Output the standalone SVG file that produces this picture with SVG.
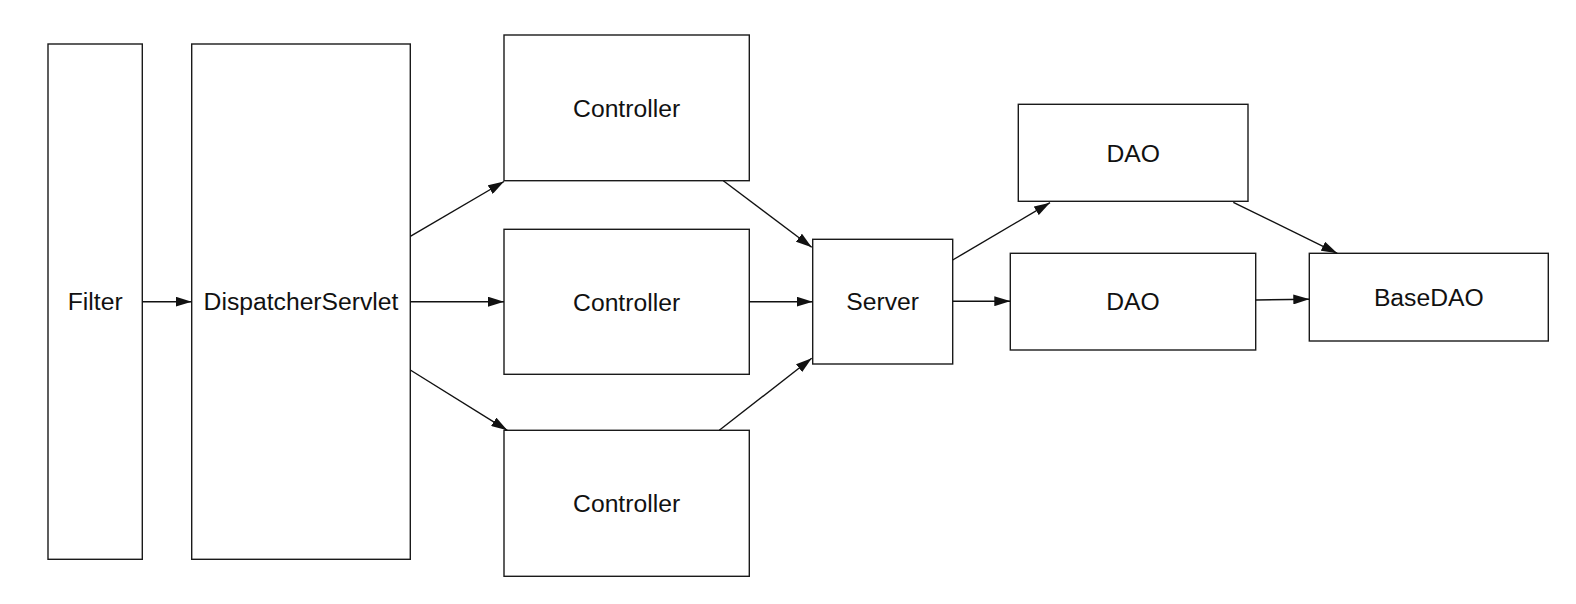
<svg xmlns="http://www.w3.org/2000/svg" width="1576" height="604" viewBox="0 0 1576 604">
  <style>
    .box { fill: #ffffff; stroke: #1a1a1a; stroke-width: 1.4; }
    .label { font-family: "Liberation Sans", Arial, Helvetica, sans-serif; font-size: 24.7px; fill: #111111; text-anchor: middle; dominant-baseline: central; }
    .edge { fill: none; stroke: #111111; stroke-width: 1.4; marker-end: url(#arrow); }
  </style>
  <defs>
    <marker id="arrow" viewBox="0 0 16 10" refX="16" refY="5" markerWidth="16" markerHeight="10" markerUnits="userSpaceOnUse" orient="auto">
      <path d="M0,0 L16,5 L0,10 Z" fill="#111111"/>
    </marker>
  </defs>
  <rect width="1576" height="604" fill="#ffffff"/>

  <g id="filter">
    <rect class="box" x="48" y="44" width="94.3" height="515.3"/>
    <text class="label" x="95.2" y="301.7">Filter</text>
  </g>
  <g id="dispatcher-servlet">
    <rect class="box" x="191.7" y="44" width="218.6" height="515.3"/>
    <text class="label" x="301" y="301.7">DispatcherServlet</text>
  </g>
  <g id="controller-1">
    <rect class="box" x="504" y="35" width="245.3" height="145.7"/>
    <text class="label" x="626.6" y="108.5">Controller</text>
  </g>
  <g id="controller-2">
    <rect class="box" x="504" y="229.3" width="245.3" height="145"/>
    <text class="label" x="626.6" y="302.2">Controller</text>
  </g>
  <g id="controller-3">
    <rect class="box" x="504" y="430.3" width="245.3" height="146"/>
    <text class="label" x="626.6" y="503.5">Controller</text>
  </g>
  <g id="server">
    <rect class="box" x="812.7" y="239.3" width="140" height="124.7"/>
    <text class="label" x="882.7" y="301.7">Server</text>
  </g>
  <g id="dao-1">
    <rect class="box" x="1018.3" y="104.3" width="229.7" height="97"/>
    <text class="label" x="1133.2" y="153">DAO</text>
  </g>
  <g id="dao-2">
    <rect class="box" x="1010.3" y="253.3" width="245.4" height="96.7"/>
    <text class="label" x="1133" y="301.7">DAO</text>
  </g>
  <g id="base-dao">
    <rect class="box" x="1309.3" y="253.3" width="239" height="87.7"/>
    <text class="label" x="1428.8" y="297.5">BaseDAO</text>
  </g>

  <g id="connectors">
    <line class="edge" x1="142.3" y1="301.7" x2="191.7" y2="301.7"/>
    <line class="edge" x1="410.3" y1="236.3" x2="504" y2="181.5"/>
    <line class="edge" x1="410.3" y1="301.7" x2="504" y2="301.7"/>
    <line class="edge" x1="410.3" y1="370" x2="507.3" y2="430.3"/>
    <line class="edge" x1="723.3" y1="180.7" x2="811.7" y2="247.3"/>
    <line class="edge" x1="749.3" y1="301.7" x2="812.7" y2="301.7"/>
    <line class="edge" x1="719.3" y1="430.3" x2="811.7" y2="358.3"/>
    <line class="edge" x1="952.7" y1="260" x2="1050" y2="202.7"/>
    <line class="edge" x1="952.7" y1="301.2" x2="1010.3" y2="301.2"/>
    <line class="edge" x1="1233.3" y1="202.3" x2="1337.3" y2="253.3"/>
    <line class="edge" x1="1255.7" y1="300" x2="1309.3" y2="299.2"/>
  </g>
</svg>
